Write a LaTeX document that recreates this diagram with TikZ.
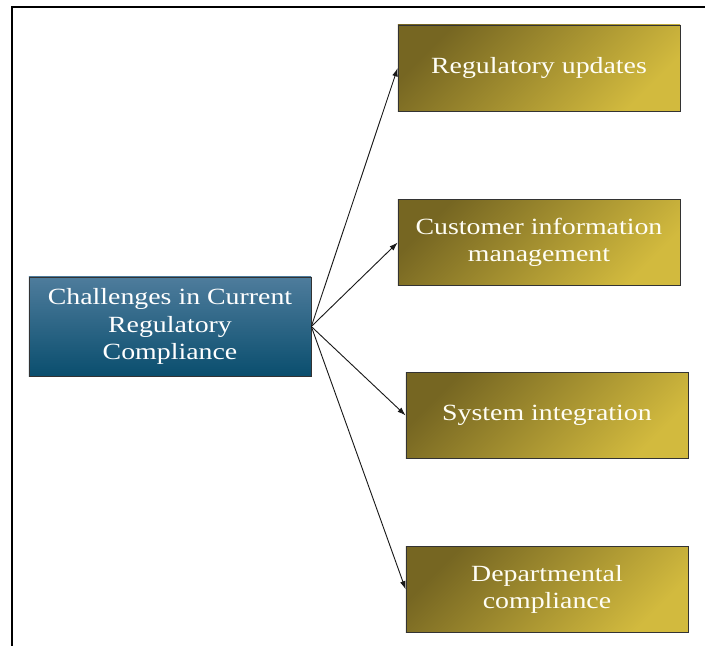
\documentclass[tikz,border=0pt]{standalone}
\usepackage{fontspec}
\usepackage{xcolor}
\usepackage{tikz}
\usetikzlibrary{positioning,arrows.meta}
\newfontfamily\boxfont[FakeStretch=1.2]{Liberation Serif}
\definecolor{ChallengeBlueTop}{RGB}{78,124,156}
\definecolor{ChallengeBlueBottom}{RGB}{10,78,110}
\definecolor{GoldDark}{RGB}{118,102,34}
\definecolor{GoldLight}{RGB}{210,186,62}
\tikzset{
    rootbox/.style={rectangle, draw=black!80, thin, minimum width=7.05cm, minimum height=2.475cm,
        top color=ChallengeBlueTop, bottom color=ChallengeBlueBottom, text=white, align=center,
        font=\boxfont\fontsize{16.5}{19.4}\selectfont},
    issuebox/.style={rectangle, draw=black!80, thin, minimum width=7.05cm, minimum height=2.15cm,
        top color=GoldDark, bottom color=GoldLight, shading angle=45, text=white!96!yellow, align=center,
        font=\boxfont\fontsize{16.5}{19.4}\selectfont}
}
\begin{document}
\begin{tikzpicture}[
        x=0.025cm, y=-0.025cm,
        % --- STYLE ---
        link/.style={
            draw=black!90,
            line width=0.65pt,
            -{Latex[length=6pt, width=4pt]}
        },
        frame/.style={
            draw=black,
            line width=1.4pt
        }
    ]
        \useasboundingbox (0,0) rectangle (705,646);

        % --- KHUNG ---
        \draw[frame] (705,7) -- (12,7) -- (12,646);

        % --- CÁC HỘP ---
        \node[rootbox] (challenges) at (170,326.5) {Challenges in Current\\Regulatory\\Compliance};

        \node[issuebox] (updates) at (539,68) {Regulatory updates};
        \node[issuebox] (customer) at (539,242.5) {Customer information\\management};
        \node[issuebox] (integration) at (547,415.5) {System integration};
        \node[issuebox] (department) at (547,589.5) {Departmental\\compliance};

        % --- MŨI TÊN ---
        \foreach \target in {updates, customer, integration, department}
            \draw[link] (challenges.east) -- (\target.west);

    \end{tikzpicture}
\end{document}
